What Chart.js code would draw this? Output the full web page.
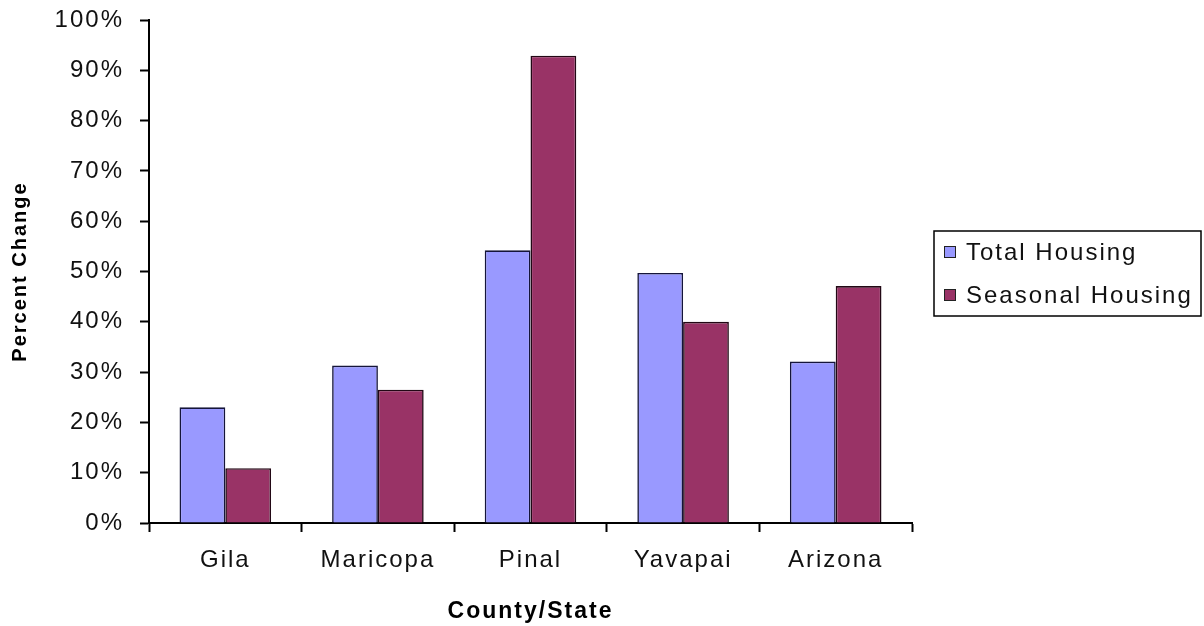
<!DOCTYPE html>
<html>
<head>
<meta charset="utf-8">
<title>Housing growth by county</title>
<script src="https://cdn.jsdelivr.net/npm/chart.js@4.4.1/dist/chart.umd.min.js"></script>
<style>
  html, body { margin: 0; padding: 0; background: #ffffff; }
  #wrap { width: 1204px; height: 626px; }
</style>
</head>
<body>
<div id="wrap"><canvas id="chart" width="1204" height="626"></canvas></div>
<script>
// Percent change in housing units, by county and for the state
const categories = ['Gila', 'Maricopa', 'Pinal', 'Yavapai', 'Arizona'];
const totalHousing = [23, 31.3, 54.2, 49.7, 32.1];
const seasonalHousing = [10.9, 26.5, 92.9, 40, 47.1];
const seriesNames = ['Total Housing', 'Seasonal Housing'];
const yTicks = [0, 10, 20, 30, 40, 50, 60, 70, 80, 90, 100];

const FONT = '"Liberation Sans", Arial, sans-serif';
const SPACING = '2px';

// Wide letter spacing for every text drawn on the canvas
const spacingPlugin = {
  id: 'spacing',
  beforeLayout(chart) { chart.ctx.letterSpacing = SPACING; },
  beforeDraw(chart) { chart.ctx.letterSpacing = SPACING; }
};

// Boxed legend at the right of the plot
const boxedLegend = {
  id: 'boxedLegend',
  afterDraw(chart) {
    const ctx = chart.ctx;
    ctx.save();
    ctx.letterSpacing = SPACING;
    const x0 = 934, y0 = 231, w = 267, h = 85;
    ctx.strokeStyle = '#000';
    ctx.lineWidth = 1.5;
    ctx.strokeRect(x0, y0, w, h);
    ctx.font = '24px ' + FONT;
    ctx.textBaseline = 'middle';
    chart.data.datasets.forEach((ds, i) => {
      const cy = 252 + i * 43;
      ctx.fillStyle = ds.backgroundColor;
      ctx.fillRect(944, cy - 6, 12, 12);
      ctx.strokeStyle = '#222';
      ctx.lineWidth = 1;
      ctx.strokeRect(944.5, cy - 5.5, 11, 11);
      ctx.fillStyle = '#111';
      ctx.fillText(ds.label, 966, cy + 1);
    });
    ctx.restore();
  }
};

new Chart(document.getElementById('chart'), {
  type: 'bar',
  data: {
    labels: categories,
    datasets: [
      {
        label: seriesNames[0],
        data: totalHousing,
        backgroundColor: '#9999ff',
        borderColor: '#15153a',
        borderWidth: 1.6
      },
      {
        label: seriesNames[1],
        data: seasonalHousing,
        backgroundColor: '#993366',
        borderColor: '#220815',
        borderWidth: 1.6
      }
    ]
  },
  options: {
    responsive: false,
    animation: false,
    events: [],
    layout: { padding: { left: 0, right: 292, top: 0, bottom: 0 } },
    datasets: {
      bar: { categoryPercentage: 0.6, barPercentage: 1.0 }
    },
    plugins: {
      legend: { display: false },
      tooltip: { enabled: false }
    },
    scales: {
      x: {
        grid: {
          offset: true,
          drawOnChartArea: false,
          drawTicks: true,
          tickLength: 9,
          tickWidth: 2,
          tickColor: '#000'
        },
        border: { display: true, color: '#000', width: 2 },
        ticks: {
          color: '#111',
          font: { family: FONT, size: 24 },
          padding: 14,
          maxRotation: 0
        },
        title: {
          display: true,
          text: 'County/State',
          color: '#000',
          font: { family: FONT, size: 23, weight: 'bold' },
          padding: { top: 0, bottom: 1 }
        },
        afterFit(scale) { scale.height = 103; }
      },
      y: {
        min: 0,
        max: 100,
        afterBuildTicks(scale) { scale.ticks = yTicks.map(v => ({ value: v })); },
        grid: {
          drawOnChartArea: false,
          drawTicks: true,
          tickLength: 9,
          tickWidth: 2,
          tickColor: '#000'
        },
        border: { display: true, color: '#000', width: 2 },
        ticks: {
          color: '#111',
          font: { family: FONT, size: 24, lineHeight: 1.0 },
          padding: 16,
          callback: v => v + '%'
        },
        title: {
          display: true,
          text: 'Percent Change',
          color: '#000',
          font: { family: FONT, size: 20, weight: 'bold' },
          padding: { top: 8, bottom: 0 }
        },
        afterFit(scale) {
          scale.width = 149;
          scale.paddingTop = 20;
        }
      }
    }
  },
  plugins: [spacingPlugin, boxedLegend]
});
</script>
</body>
</html>
